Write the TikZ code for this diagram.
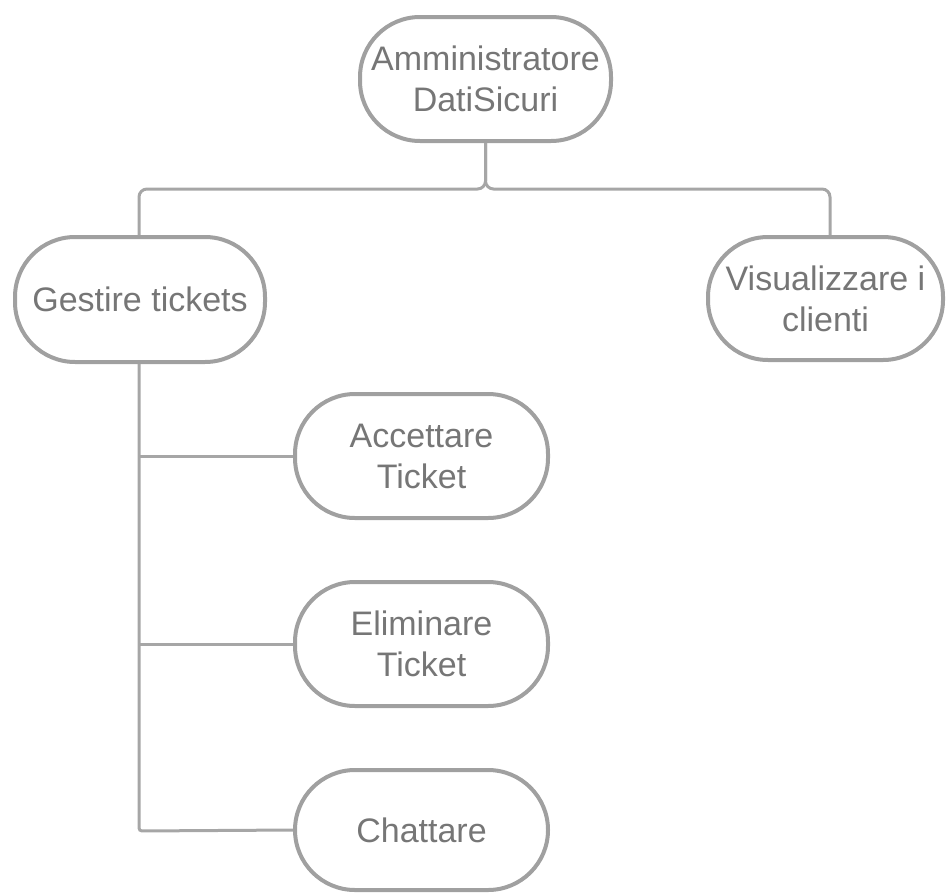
\documentclass[tikz,border=0pt]{standalone}
\usepackage{fontspec}
\setmainfont{Liberation Sans}
\definecolor{boxline}{HTML}{A0A0A0}
\definecolor{linkline}{HTML}{A6A6A6}
\definecolor{labeltext}{HTML}{767676}
\begin{document}
\begin{tikzpicture}[x=1pt,y=-1pt,
  task/.style={draw=boxline, line width=4pt, fill=white, rounded corners=60pt,
    inner sep=0pt, align=center, text=labeltext,
    font=\fontsize{34}{41}\selectfont},
  link/.style={draw=linkline, line width=3pt, rounded corners=8pt}]
  \useasboundingbox (0,0) rectangle (947,894);

  % bend points of the tree links
  \coordinate (hub) at (485.5,189);
  \coordinate (leftbend) at (139,189);
  \coordinate (rightbend) at (830,189);
  \coordinate (trunkend) at (139,831);
  \coordinate (accjoin) at (139,456);
  \coordinate (elimjoin) at (139,644);

  % task boxes
  \node[task, minimum width=251pt, minimum height=124pt] (admin) at (485.5,79) {Amministratore\\DatiSicuri};
  \node[task, minimum width=250pt, minimum height=125pt] (gestire) at (140,299.5) {Gestire tickets};
  \node[task, minimum width=235pt, minimum height=123pt] (clienti) at (825.5,298.5) {Visualizzare i\\clienti};
  \node[task, minimum width=253pt, minimum height=124pt] (accettare) at (421.5,456) {Accettare\\Ticket};
  \node[task, minimum width=253pt, minimum height=124pt] (eliminare) at (421.5,644) {Eliminare\\Ticket};
  \node[task, minimum width=253pt, minimum height=120pt] (chattare) at (421.5,830) {Chattare};

  % tree links
  \draw[link] (admin.south) -- (hub) -- (leftbend) -- (gestire.north -| leftbend);
  \draw[link] (admin.south) -- (hub) -- (rightbend) -- (clienti.north -| rightbend);
  \draw[link, rounded corners=3pt] (gestire.south -| trunkend) -- (trunkend) -- (chattare.west);
  \draw[link] (accjoin) -- (accettare.west);
  \draw[link] (elimjoin) -- (eliminare.west);
\end{tikzpicture}
\end{document}
